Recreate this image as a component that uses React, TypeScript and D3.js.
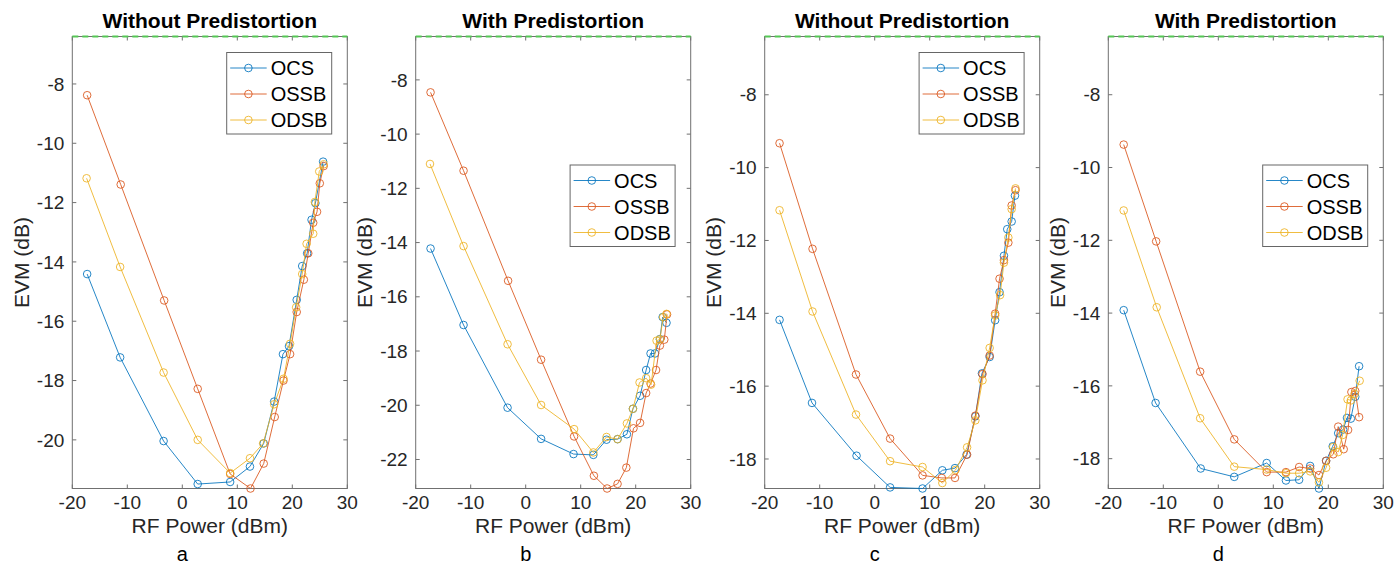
import React from 'react';
import * as d3 from 'd3';

// ---------- data ----------
const seriesNames = ['OCS', 'OSSB', 'ODSB'];
const titles = ['Without Predistortion', 'With Predistortion', 'Without Predistortion', 'With Predistortion'];
const letters = ['a', 'b', 'c', 'd'];
const xTicks = [-20, -10, 0, 10, 20, 30];
const yTickCandidates = [-22, -20, -18, -16, -14, -12, -10, -8];

// panel a
const aX_OCS = [-17.3, -11.3, -3.4, 2.8, 8.7, 12.3, 14.8, 16.7, 18.3, 19.4, 20.8, 21.8, 22.7, 23.5, 24.2, 25.6];
const aY_OCS = [-14.41, -17.22, -20.04, -21.49, -21.42, -20.9, -20.12, -18.71, -17.11, -16.84, -15.28, -14.14, -13.71, -12.58, -12.02, -10.62];
const aX_OSSB = [-17.3, -11.2, -3.3, 2.8, 8.7, 12.4, 14.8, 16.8, 18.4, 19.6, 20.8, 22.1, 22.9, 23.8, 24.5, 25.0, 25.7];
const aY_OSSB = [-8.38, -11.39, -15.3, -18.28, -21.15, -21.64, -20.8, -19.23, -18.0, -17.11, -15.69, -14.6, -13.71, -12.68, -12.31, -11.35, -10.77];
const aX_ODSB = [-17.4, -11.3, -3.4, 2.8, 8.7, 12.3, 14.7, 16.7, 18.4, 19.6, 20.7, 21.8, 22.6, 23.8, 24.1, 24.9, 25.7];
const aY_ODSB = [-11.18, -14.17, -17.73, -20.0, -21.12, -20.62, -20.12, -18.8, -17.94, -16.76, -15.53, -14.41, -13.39, -13.05, -11.98, -10.95, -10.71];

// panel b
const bX_OCS = [-17.3, -11.3, -3.3, 2.8, 8.7, 12.3, 14.7, 16.7, 18.4, 19.5, 20.8, 21.9, 22.7, 23.5, 24.4, 24.9, 25.6];
const bY_OCS = [-14.22, -17.04, -20.09, -21.24, -21.8, -21.83, -21.27, -21.25, -21.07, -20.13, -19.65, -18.7, -18.09, -18.09, -17.56, -16.75, -16.96];
const bX_OSSB = [-17.3, -11.3, -3.2, 2.8, 8.8, 12.4, 14.8, 16.7, 18.3, 19.6, 20.8, 21.9, 22.7, 23.7, 24.4, 25.2, 25.7];
const bY_OSSB = [-8.46, -11.35, -15.41, -18.32, -21.15, -22.6, -23.07, -22.9, -22.3, -20.85, -20.65, -19.55, -19.2, -18.7, -17.8, -17.58, -16.65];
const bX_ODSB = [-17.4, -11.3, -3.3, 2.8, 8.8, 12.3, 14.7, 16.7, 18.4, 19.5, 20.7, 21.9, 22.8, 23.8, 24.4, 25.0, 25.6];
const bY_ODSB = [-11.1, -14.13, -17.75, -19.99, -20.88, -21.74, -21.17, -21.25, -20.67, -20.13, -19.16, -19.0, -19.24, -17.62, -17.57, -16.75, -16.63];

// panel c
const cX_OCS = [-17.3, -11.4, -3.3, 2.8, 8.7, 12.3, 14.6, 16.7, 18.3, 19.5, 20.9, 21.9, 22.7, 23.5, 24.1, 24.9, 25.5];
const cY_OCS = [-14.18, -16.46, -17.91, -18.78, -18.81, -18.31, -18.25, -17.88, -16.83, -15.65, -15.2, -14.19, -13.42, -12.42, -11.69, -11.48, -10.77];
const cX_OSSB = [-17.3, -11.3, -3.4, 2.8, 8.7, 12.2, 14.6, 16.8, 18.3, 19.6, 20.9, 21.9, 22.7, 23.5, 24.3, 24.9, 25.6];
const cY_OSSB = [-9.33, -12.23, -15.68, -17.44, -18.45, -18.52, -18.52, -17.88, -16.81, -15.67, -15.16, -14.01, -13.05, -12.54, -12.06, -11.04, -10.62];
const cX_ODSB = [-17.3, -11.3, -3.4, 2.8, 8.7, 12.3, 14.7, 16.8, 18.3, 19.6, 20.9, 21.9, 22.8, 23.5, 24.3, 24.9, 25.6];
const cY_ODSB = [-11.17, -13.95, -16.78, -18.06, -18.22, -18.66, -18.3, -17.68, -16.94, -15.84, -14.95, -14.06, -13.5, -12.61, -11.92, -11.14, -10.57];

// panel d
const dX_OCS = [-17.2, -11.4, -3.2, 2.9, 8.8, 12.3, 14.7, 16.7, 18.3, 19.6, 20.8, 21.8, 22.7, 23.4, 24.1, 24.9, 25.6];
const dY_OCS = [-13.92, -16.47, -18.27, -18.5, -18.12, -18.6, -18.58, -18.2, -18.82, -18.06, -17.66, -17.3, -17.2, -16.88, -16.9, -16.3, -15.46];
const dX_OSSB = [-17.2, -11.3, -3.3, 2.9, 8.8, 12.3, 14.7, 16.7, 18.3, 19.6, 20.9, 21.8, 22.8, 23.6, 24.2, 24.9, 25.6];
const dY_OSSB = [-9.37, -12.03, -15.61, -17.47, -18.37, -18.37, -18.23, -18.27, -18.45, -18.06, -17.88, -17.12, -17.74, -17.21, -16.17, -16.14, -16.86];
const dX_ODSB = [-17.2, -11.2, -3.3, 2.9, 8.8, 12.3, 14.7, 16.7, 18.3, 19.6, 20.9, 21.8, 22.6, 23.5, 24.1, 24.8, 25.7];
const dY_ODSB = [-11.18, -13.84, -16.89, -18.22, -18.3, -18.4, -18.4, -18.35, -18.65, -18.25, -17.68, -17.82, -17.35, -16.37, -16.4, -16.22, -15.86];

const yTop = -6.4;

// ---------- layout / style ----------
const W = 1396;
const H = 566;
const colors = ['#0072BD', '#D95319', '#EDB120'];
const plotLefts = [72.3, 415.7, 764.7, 1108.3];
const plotW = 275;
const plotTop = 36.5;
const plotBottom = 488.5;
const legendTops = [52.5, 165, 52.5, 165];
const FONT = "'Liberation Sans', Arial, Helvetica, sans-serif";

const panelData = [
  [[aX_OCS, aY_OCS], [aX_OSSB, aY_OSSB], [aX_ODSB, aY_ODSB]],
  [[bX_OCS, bY_OCS], [bX_OSSB, bY_OSSB], [bX_ODSB, bY_ODSB]],
  [[cX_OCS, cY_OCS], [cX_OSSB, cY_OSSB], [cX_ODSB, cY_ODSB]],
  [[dX_OCS, dY_OCS], [dX_OSSB, dY_OSSB], [dX_ODSB, dY_ODSB]],
];

function Panel({ idx }: { idx: number }) {
  const left = plotLefts[idx];
  const right = left + plotW;
  const series = panelData[idx].map(([xs, ys]) => xs.map((x, i) => [x, ys[i]] as [number, number]));
  const yMin = d3.min(series.flat(), (p) => p[1]) as number;
  const x = d3.scaleLinear().domain([-20, 30]).range([left, right]);
  const y = d3.scaleLinear().domain([yMin, yTop]).range([plotBottom, plotTop]);
  const line = d3.line<[number, number]>().x((p) => x(p[0])).y((p) => y(p[1]));
  const yTicks = yTickCandidates.filter((t) => t >= yMin && t <= yTop);
  const tickLen = 4;
  const axisColor = '#707070';
  const textColor = '#262626';
  const lgTop = legendTops[idx];
  const lgLeft = right - 120.6;
  const lgW = 105;
  const rowH = 26;
  const cx = (left + right) / 2;
  const markR = 3.8;

  return (
    <g>
      <text x={cx} y={28} textAnchor="middle" fontFamily={FONT} fontWeight="bold" fontSize={21} fill="#000">
        {titles[idx]}
      </text>
      {/* box */}
      <rect x={left} y={plotTop} width={plotW} height={plotBottom - plotTop} fill="#fff" stroke={axisColor} strokeWidth={1} />
      {/* ticks */}
      {xTicks.map((t) => (
        <g key={'xt' + t}>
          <line x1={x(t)} x2={x(t)} y1={plotBottom} y2={plotBottom - tickLen} stroke={axisColor} />
          <line x1={x(t)} x2={x(t)} y1={plotTop} y2={plotTop + tickLen} stroke={axisColor} />
          <text x={x(t)} y={508.5} textAnchor="middle" fontFamily={FONT} fontSize={19} fill={textColor}>
            {t}
          </text>
        </g>
      ))}
      {yTicks.map((t) => (
        <g key={'yt' + t}>
          <line x1={left} x2={left + tickLen} y1={y(t)} y2={y(t)} stroke={axisColor} />
          <line x1={right} x2={right - tickLen} y1={y(t)} y2={y(t)} stroke={axisColor} />
          <text x={left - 8} y={y(t)} dy="0.35em" textAnchor="end" fontFamily={FONT} fontSize={19} fill={textColor}>
            {t}
          </text>
        </g>
      ))}
      {/* green dashed reference at top */}
      <line x1={left} x2={right} y1={plotTop} y2={plotTop} stroke="#55c855" strokeWidth={2} strokeDasharray="6,4" />
      {/* series */}
      {series.map((pts, si) => (
        <g key={'s' + si}>
          <path d={line(pts) || ''} fill="none" stroke={colors[si]} strokeWidth={1} strokeOpacity={0.85} />
          {pts.map((p, i) => (
            <circle key={i} cx={x(p[0])} cy={y(p[1])} r={markR} fill="none" stroke={colors[si]} strokeWidth={1} strokeOpacity={0.85} />
          ))}
        </g>
      ))}
      {/* legend */}
      <rect x={lgLeft} y={lgTop} width={lgW} height={rowH * 3 + 3.5} fill="#fff" stroke="#666" strokeWidth={1} />
      {seriesNames.map((n, si) => {
        const ry = lgTop + 15.5 + si * rowH;
        return (
          <g key={'lg' + si}>
            <line x1={lgLeft + 3.5} x2={lgLeft + 40} y1={ry} y2={ry} stroke={colors[si]} strokeWidth={1} strokeOpacity={0.85} />
            <circle cx={lgLeft + 21.7} cy={ry} r={markR} fill="none" stroke={colors[si]} strokeWidth={1} strokeOpacity={0.85} />
            <text x={lgLeft + 44} y={ry} dy="0.35em" fontFamily={FONT} fontSize={20} fill="#000">
              {n}
            </text>
          </g>
        );
      })}
      {/* axis labels */}
      <text x={cx} y={533} textAnchor="middle" fontFamily={FONT} fontSize={21} fill={textColor}>
        RF Power (dBm)
      </text>
      <text
        transform={`translate(${left - 51},${(plotTop + plotBottom) / 2}) rotate(-90)`}
        textAnchor="middle"
        dy="0.35em"
        fontFamily={FONT}
        fontSize={21}
        fill={textColor}
      >
        EVM (dB)
      </text>
      <text x={x(0)} y={561} textAnchor="middle" fontFamily={FONT} fontSize={20} fill="#000">
        {letters[idx]}
      </text>
    </g>
  );
}

export default function App() {
  return (
    <svg width={W} height={H} style={{ position: 'absolute', left: 0, top: 0, background: '#fff' }}>
      <rect x={0} y={0} width={W} height={H} fill="#fff" />
      {[0, 1, 2, 3].map((i) => (
        <Panel key={i} idx={i} />
      ))}
    </svg>
  );
}
